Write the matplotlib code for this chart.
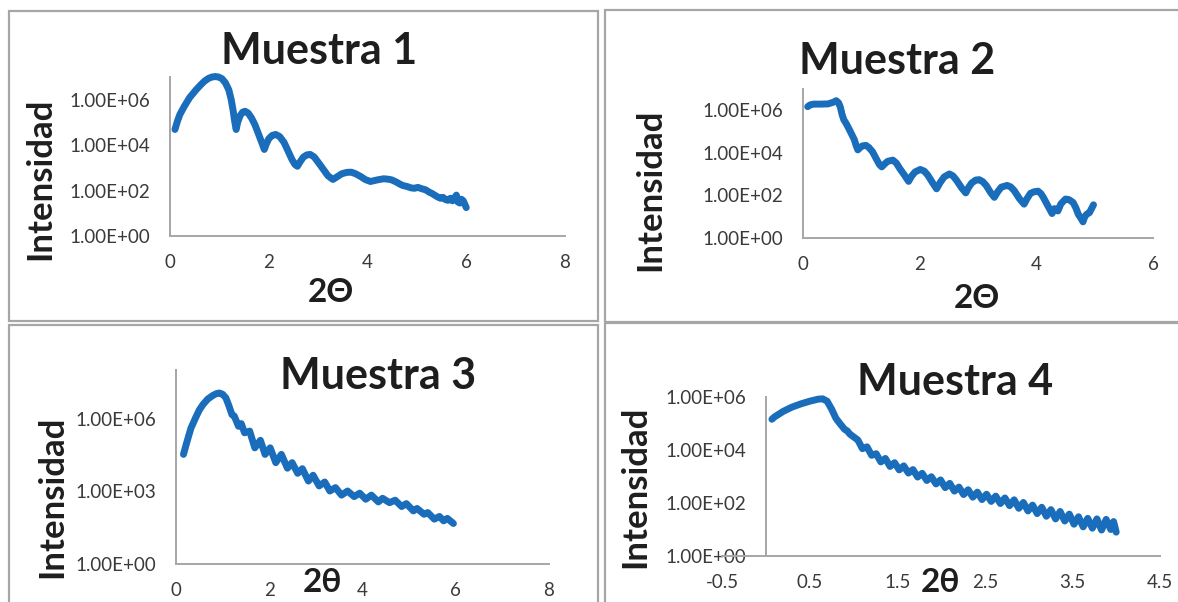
import numpy as np
import matplotlib
matplotlib.use("Agg")
import matplotlib.pyplot as plt
from matplotlib.patches import Rectangle
from matplotlib.ticker import FixedLocator, FuncFormatter, NullLocator

plt.rcParams['font.family'] = ['Lato', 'DejaVu Sans']

# ---------------------------------------------------------------------------
# Reflectivity curves: 2-theta (deg) and log10 of the measured intensity
# ---------------------------------------------------------------------------
m1_theta = [0.10, 0.15, 0.20, 0.29, 0.40, 0.53, 0.62, 0.70, 0.78, 0.85, 0.92, 0.98,
            1.05, 1.12, 1.19, 1.24, 1.28, 1.31, 1.34, 1.37, 1.42, 1.47, 1.52, 1.58,
            1.65, 1.72, 1.81, 1.87, 1.91, 1.95, 2.00, 2.07, 2.14, 2.22, 2.31, 2.40,
            2.47, 2.53, 2.58, 2.63, 2.70, 2.77, 2.84, 2.92, 3.01, 3.10, 3.20, 3.30,
            3.38, 3.48, 3.58, 3.67, 3.76, 3.86, 3.96, 4.06, 4.20, 4.33, 4.42, 4.49,
            4.58, 4.66, 4.72, 4.80, 4.88, 4.95, 5.02, 5.10, 5.18, 5.25, 5.30, 5.36,
            5.42, 5.48, 5.53, 5.58, 5.63, 5.68, 5.72, 5.77, 5.80, 5.83, 5.87, 5.90,
            5.94, 5.97, 6.00]
m1_log_int = [4.69, 5.05, 5.35, 5.71, 6.10, 6.44, 6.65, 6.82, 6.94, 7.00, 7.02, 7.00,
              6.93, 6.75, 6.44, 6.00, 5.50, 5.05, 4.69, 5.00, 5.30, 5.45, 5.49, 5.42,
              5.20, 4.90, 4.39, 4.05, 3.81, 4.05, 4.28, 4.43, 4.47, 4.38, 4.12, 3.70,
              3.37, 3.15, 3.07, 3.25, 3.47, 3.57, 3.59, 3.48, 3.22, 2.95, 2.65, 2.49,
              2.60, 2.74, 2.80, 2.81, 2.74, 2.62, 2.48, 2.40, 2.47, 2.52, 2.50, 2.47,
              2.38, 2.28, 2.22, 2.18, 2.12, 2.10, 2.14, 2.08, 2.03, 1.93, 1.88, 1.80,
              1.72, 1.66, 1.70, 1.60, 1.57, 1.66, 1.55, 1.70, 1.80, 1.50, 1.45, 1.62,
              1.55, 1.40, 1.25]

m2_theta = [0.08, 0.12, 0.18, 0.30, 0.43, 0.52, 0.57, 0.61, 0.64, 0.67, 0.70, 0.74,
            0.78, 0.83, 0.88, 0.91, 0.94, 0.98, 1.02, 1.08, 1.13, 1.19, 1.26, 1.31,
            1.35, 1.40, 1.45, 1.54, 1.60, 1.66, 1.74, 1.81, 1.86, 1.92, 2.01, 2.08,
            2.14, 2.22, 2.29, 2.35, 2.42, 2.51, 2.57, 2.63, 2.72, 2.79, 2.84, 2.89,
            2.96, 3.02, 3.08, 3.14, 3.22, 3.28, 3.34, 3.40, 3.50, 3.56, 3.62, 3.71,
            3.79, 3.84, 3.90, 3.96, 4.03, 4.08, 4.12, 4.20, 4.27, 4.31, 4.34, 4.37,
            4.42, 4.50, 4.56, 4.63, 4.68, 4.72, 4.76, 4.80, 4.83, 4.86, 4.91, 4.95,
            4.98]
m2_log_int = [6.17, 6.25, 6.29, 6.29, 6.30, 6.38, 6.45, 6.35, 6.15, 5.80, 5.55, 5.38,
              5.17, 4.90, 4.62, 4.35, 4.14, 4.25, 4.33, 4.35, 4.25, 4.06, 3.70, 3.45,
              3.34, 3.48, 3.60, 3.66, 3.52, 3.26, 2.95, 2.66, 2.90, 3.10, 3.22, 3.14,
              2.95, 2.60, 2.31, 2.60, 2.87, 3.01, 2.92, 2.72, 2.35, 2.12, 2.38, 2.58,
              2.72, 2.74, 2.65, 2.47, 2.12, 1.91, 2.18, 2.39, 2.47, 2.40, 2.23, 1.85,
              1.59, 1.85, 2.10, 2.17, 2.20, 2.08, 1.91, 1.50, 1.15, 1.38, 1.35, 1.27,
              1.60, 1.83, 1.80, 1.67, 1.40, 1.11, 0.95, 0.76, 1.00, 1.11, 1.19, 1.40,
              1.56]

m3_theta = [0.16, 0.20, 0.25, 0.32, 0.42, 0.50, 0.58, 0.68, 0.79, 0.86, 0.93, 1.00,
            1.07, 1.13, 1.20, 1.25, 1.34, 1.40, 1.47, 1.58, 1.69, 1.81, 1.91, 2.02,
            2.14, 2.26, 2.39, 2.49, 2.61, 2.71, 2.84, 2.94, 3.07, 3.19, 3.30, 3.42,
            3.55, 3.68, 3.82, 3.94, 4.07, 4.19, 4.34, 4.43, 4.58, 4.70, 4.84, 4.94,
            5.09, 5.17, 5.32, 5.40, 5.54, 5.65, 5.74, 5.82, 5.95]
m3_log_int = [4.52, 4.80, 5.14, 5.60, 6.03, 6.35, 6.58, 6.80, 6.95, 7.02, 7.05, 7.00,
              6.85, 6.55, 6.16, 6.10, 5.68, 5.79, 5.41, 5.48, 4.79, 5.10, 4.52, 4.79,
              4.18, 4.52, 3.95, 4.18, 3.74, 3.93, 3.42, 3.66, 3.22, 3.38, 3.01, 3.15,
              2.84, 3.01, 2.78, 2.92, 2.67, 2.84, 2.56, 2.71, 2.53, 2.63, 2.37, 2.49,
              2.19, 2.29, 2.05, 2.12, 1.85, 1.96, 1.78, 1.88, 1.67]

m4_theta = [0.07, 0.10, 0.20, 0.30, 0.40, 0.50, 0.60, 0.65, 0.70, 0.75, 0.80, 0.85,
            0.90, 0.93, 0.96, 1.00, 1.050, 1.103, 1.155, 1.208, 1.260, 1.313, 1.365,
            1.418, 1.470, 1.523, 1.575, 1.628, 1.680, 1.733, 1.785, 1.838, 1.890,
            1.943, 1.995, 2.048, 2.100, 2.153, 2.205, 2.258, 2.310, 2.363, 2.415,
            2.468, 2.520, 2.573, 2.625, 2.678, 2.730, 2.783, 2.835, 2.888, 2.940,
            2.993, 3.045, 3.098, 3.150, 3.203, 3.255, 3.308, 3.360, 3.413, 3.465,
            3.518, 3.570, 3.623, 3.675, 3.728, 3.780, 3.833, 3.885, 3.938, 3.970,
            4.000]
m4_log_int = [5.16, 5.25, 5.46, 5.62, 5.74, 5.84, 5.92, 5.93, 5.84, 5.55, 5.20, 4.98,
              4.78, 4.72, 4.60, 4.50, 4.38, 4.05, 4.12, 3.80, 3.86, 3.55, 3.68,
              3.38, 3.52, 3.25, 3.40, 3.13, 3.26, 2.98, 3.12, 2.85, 2.99,
              2.72, 2.87, 2.58, 2.74, 2.45, 2.60, 2.32, 2.50, 2.22, 2.41,
              2.13, 2.33, 2.06, 2.26, 1.98, 2.19, 1.90, 2.12, 1.80, 2.02,
              1.70, 1.92, 1.60, 1.84, 1.50, 1.75, 1.40, 1.68, 1.32, 1.58,
              1.20, 1.48, 1.10, 1.42, 1.05, 1.40, 0.98, 1.38, 1.00, 1.30,
              0.90]

# Axis ticks
m1_xticks = [0, 2, 4, 6, 8]
m2_xticks = [0, 2, 4, 6]
m3_xticks = [0, 2, 4, 6, 8]
m4_xticks = [-0.5, 0.5, 1.5, 2.5, 3.5, 4.5]
m1_yticks = [1e0, 1e2, 1e4, 1e6]
m2_yticks = [1e0, 1e2, 1e4, 1e6]
m3_yticks = [1e0, 1e3, 1e6]
m4_yticks = [1e0, 1e2, 1e4, 1e6]

titles = ["Muestra 1", "Muestra 2", "Muestra 3", "Muestra 4"]
xlabels = ["2Θ", "2Θ", "2θ", "2θ"]
ylabel = "Intensidad"

# ---------------------------------------------------------------------------
W, H = 1178, 602
BLUE = "#1A6DBA"
GRID_GREY = "#A6A6A6"
TEXT = "#1E1E1E"
TICK_TEXT = "#3A3A3A"

fig = plt.figure(figsize=(W / 100, H / 100), dpi=100)
fig.patch.set_facecolor("white")


def fx(x):
    return x / W


def fy(y):
    return 1 - y / H


def frame(x0, y0, x1, y1):
    fig.patches.append(Rectangle((fx(x0), fy(y1)), fx(x1) - fx(x0), fy(y0) - fy(y1),
                                 transform=fig.transFigure, fill=False,
                                 edgecolor=GRID_GREY, lw=1.6, zorder=0))


def put(x, y, s, size, rotation=0):
    fig.text(fx(x), fy(y), s, ha="center", va="center", fontsize=size,
             fontweight="bold", color=TEXT, rotation=rotation)


def chart(box, theta, log_int, xlim, ylim, xticks, yticks, y_at_zero=False):
    x0, y0, x1, y1 = box
    ax = fig.add_axes([fx(x0), fy(y1), fx(x1) - fx(x0), fy(y0) - fy(y1)])
    ax.set_facecolor("none")
    ax.plot(theta, 10 ** np.asarray(log_int), color=BLUE, lw=5.0,
            solid_capstyle="round", solid_joinstyle="round", clip_on=False)
    ax.set_yscale("log")
    ax.set_xlim(*xlim)
    ax.set_ylim(*ylim)
    ax.xaxis.set_major_locator(FixedLocator(xticks))
    ax.xaxis.set_major_formatter(FuncFormatter(lambda v, p: f"{v:g}"))
    ax.yaxis.set_major_locator(FixedLocator(yticks))
    ax.yaxis.set_minor_locator(NullLocator())
    ax.yaxis.set_major_formatter(FuncFormatter(lambda v, p: f"{v:.2E}"))
    for side in ("top", "right"):
        ax.spines[side].set_visible(False)
    for side in ("left", "bottom"):
        ax.spines[side].set_color(GRID_GREY)
        ax.spines[side].set_linewidth(1.4)
    if y_at_zero:
        ax.spines["left"].set_position(("data", 0))
    ax.tick_params(axis="both", length=0, labelsize=13.5, colors=TICK_TEXT)
    ax.tick_params(axis="x", pad=13)
    ax.tick_params(axis="y", pad=14)
    return ax


# panel borders
frame(9, 11, 598, 321)
frame(605, 10, 1190, 322)
frame(9, 325, 598, 612)
frame(605, 323, 1190, 612)

chart((170, 77, 565, 236), m1_theta, m1_log_int, (0, 8), (1, 1e7), m1_xticks, m1_yticks)
chart((803, 89, 1153, 238), m2_theta, m2_log_int, (0, 6), (1, 1e7), m2_xticks, m2_yticks)
chart((176, 370, 549, 564), m3_theta, m3_log_int, (0, 8), (1, 1e8), m3_xticks, m3_yticks)
chart((722, 397, 1160, 556), m4_theta, m4_log_int, (-0.5, 4.5), (1, 1e6), m4_xticks,
      m4_yticks, y_at_zero=True)

# titles
put(319, 51, titles[0], 31)
put(897, 61, titles[1], 31)
put(378, 376, titles[2], 31)
put(955, 382, titles[3], 31)

# x-axis titles
put(331, 293, xlabels[0], 24)
put(977, 298, xlabels[1], 24)
put(323, 582, xlabels[2], 24)
put(941, 583, xlabels[3], 24)

# y-axis titles
put(40, 179, ylabel, 25, rotation=90)
put(650, 190, ylabel, 25, rotation=90)
put(52, 497, ylabel, 25, rotation=90)
put(635, 487, ylabel, 25, rotation=90)

fig.savefig("out.png", dpi=100, facecolor="white")
